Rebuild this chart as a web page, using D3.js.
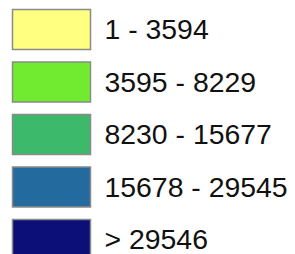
<!DOCTYPE html>
<meta charset="utf-8">
<style>
    body {
        margin: 0;
        background: #fff;
    }

    svg {
        font-family: "Liberation Sans", Arial, sans-serif;
    }
</style>
<body>
<script src="https://cdn.jsdelivr.net/npm/d3@7"></script>
<script>
    // legend classes, top to bottom
    const labels = ['1 - 3594', '3595 - 8229', '8230 - 15677', '15678 - 29545', '> 29546'];
    const colors = ['#ffff80', '#70eb30', '#3cb96a', '#236b9e', '#0d0f78'];

    const width = 295;
    const height = 254;

    const svg = d3.select('body')
        .append('svg')
        .attr('width', width)
        .attr('height', height);

    // rows: 52.5px pitch, 40px swatches
    const pitch = 52.5, box = 40;
    const y = d3.scaleBand()
        .domain(labels)
        .range([9.5, 9.5 + pitch * labels.length - (pitch - box)])
        .paddingInner((pitch - box) / pitch)
        .paddingOuter(0);

    const color = d3.scaleOrdinal()
        .domain(labels)
        .range(colors);

    const legend = svg.selectAll('.legend')
        .data(labels)
        .enter().append('g')
        .attr('class', 'legend')
        .attr('transform', d => 'translate(0,' + y(d) + ')');

    legend.append('rect')
        .attr('x', 12.5)
        .attr('width', 78)
        .attr('height', y.bandwidth())
        .style('fill', color)
        .style('stroke', '#8a8a8a')
        .style('stroke-width', 1.5);

    legend.append('text')
        .attr('x', 104.5)
        .attr('y', y.bandwidth() / 2)
        .attr('dy', '.35em')
        .style('font-size', '28.4px')
        .style('fill', '#111')
        .text(d => d);
</script>
</body>
